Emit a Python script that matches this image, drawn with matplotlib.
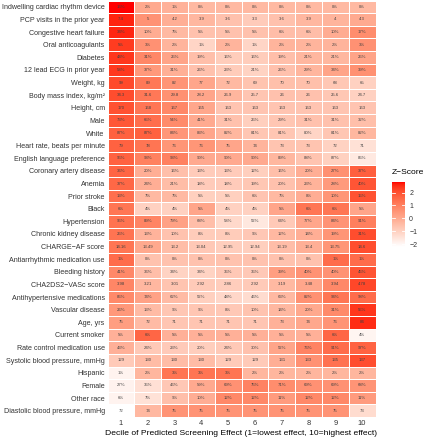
import numpy as np
import matplotlib
matplotlib.use("Agg")
import matplotlib.pyplot as plt
from matplotlib.colors import ListedColormap

plt.rcParams['font.family'] = ['Liberation Sans', 'DejaVu Sans']

row_labels = [
    "Indwelling cardiac rhythm device", "PCP visits in the prior year", "Congestive heart failure",
    "Oral anticoagulants", "Diabetes", "12 lead ECG in prior year", "Weight, kg",
    "Body mass index, kg/m²", "Height, cm", "Male", "White", "Heart rate, beats per minute",
    "English language preference", "Coronary artery disease", "Anemia", "Prior stroke", "Black",
    "Hypertension", "Chronic kidney disease", "CHARGE\u2212AF score", "Antiarrhythmic medication use",
    "Bleeding history", "CHA2DS2\u2212VASc score", "Antihypertensive medications", "Vascular disease",
    "Age, yrs", "Current smoker", "Rate control medication use", "Systolic blood pressure, mmHg",
    "Hispanic", "Female", "Other race", "Diastolic blood pressure, mmHg",
]

deciles = [1, 2, 3, 4, 5, 6, 7, 8, 9, 10]

values = [
    [16, 2, 1, 0, 0, 0, 0, 0, 0, 0],
    [7.4, 5, 4.2, 3.9, 3.6, 3.3, 3.6, 3.9, 4, 4.3],
    [34, 10, 7, 5, 5, 5, 6, 6, 10, 17],
    [5, 3, 2, 1, 2, 1, 2, 2, 2, 3],
    [44, 31, 25, 19, 16, 16, 19, 21, 21, 25],
    [58, 37, 31, 26, 23, 21, 26, 29, 34, 39],
    [99, 89, 82, 77, 72, 69, 70, 70, 68, 65],
    [34.3, 31.6, 29.8, 28.2, 26.9, 25.7, 26, 26, 25.6, 24.7],
    [170, 168, 167, 165, 163, 163, 163, 163, 163, 163],
    [73, 65, 54, 41, 31, 25, 29, 31, 31, 32],
    [87, 87, 84, 83, 82, 81, 81, 80, 81, 82],
    [79, 78, 76, 76, 75, 74, 73, 73, 72, 71],
    [95, 93, 93, 90, 90, 90, 89, 88, 87, 85],
    [36, 20, 16, 13, 13, 12, 16, 20, 27, 37],
    [37, 24, 21, 18, 18, 19, 20, 23, 28, 40],
    [13, 7, 7, 5, 5, 6, 7, 8, 10, 15],
    [6, 4, 4, 5, 4, 4, 5, 6, 6, 5],
    [95, 89, 79, 68, 58, 52, 64, 77, 84, 91],
    [25, 13, 10, 8, 8, 9, 12, 14, 19, 31],
    [14.16, 13.49, 13.2, 13.04, 12.95, 12.94, 13.19, 13.4, 13.75, 14.6],
    [1, 0, 0, 0, 0, 0, 0, 0, 1, 1],
    [41, 36, 34, 34, 35, 35, 39, 40, 40, 45],
    [3.98, 3.21, 3.01, 2.92, 2.86, 2.92, 3.19, 3.48, 3.94, 4.78],
    [85, 74, 62, 52, 48, 46, 63, 82, 94, 98],
    [26, 13, 9, 9, 8, 10, 14, 20, 31, 55],
    [75, 72, 71, 71, 71, 71, 73, 74, 76, 84],
    [5, 6, 5, 5, 5, 5, 5, 5, 6, 4],
    [43, 24, 23, 20, 24, 30, 52, 76, 91, 97],
    [129, 130, 130, 130, 129, 129, 131, 133, 135, 137],
    [1, 2, 3, 3, 3, 2, 2, 2, 2, 2],
    [27, 35, 46, 59, 69, 75, 71, 69, 69, 68],
    [6, 7, 9, 10, 12, 12, 11, 12, 12, 11],
    [72, 74, 75, 75, 75, 75, 75, 75, 75, 73],
]

is_percent = [
    True, False, True, True, True, True, False, False, False, True, True, False, True, True,
    True, True, True, True, True, False, True, True, False, True, True, False, True, True,
    False, True, True, True, False,
]

# ---- colormap: white -> red interpolated in CIELAB (ggplot-like) ----
def srgb_to_lab(rgb):
    rgb = np.asarray(rgb, float)
    lin = np.where(rgb <= 0.04045, rgb / 12.92, ((rgb + 0.055) / 1.055) ** 2.4)
    M = np.array([[0.4124, 0.3576, 0.1805], [0.2126, 0.7152, 0.0722], [0.0193, 0.1192, 0.9505]])
    xyz = M @ lin
    wp = np.array([0.95047, 1.0, 1.08883])
    t = xyz / wp
    f = np.where(t > (6 / 29) ** 3, np.cbrt(t), t / (3 * (6 / 29) ** 2) + 4 / 29)
    return np.array([116 * f[1] - 16, 500 * (f[0] - f[1]), 200 * (f[1] - f[2])])

def lab_to_srgb(lab):
    L, a, b = lab
    fy = (L + 16) / 116
    fx = fy + a / 500
    fz = fy - b / 200
    def finv(f):
        return np.where(f > 6 / 29, f ** 3, 3 * (6 / 29) ** 2 * (f - 4 / 29))
    wp = np.array([0.95047, 1.0, 1.08883])
    xyz = np.array([finv(fx), finv(fy), finv(fz)]) * wp
    Minv = np.array([[3.2406, -1.5372, -0.4986], [-0.9689, 1.8758, 0.0415], [0.0557, -0.2040, 1.0570]])
    lin = np.clip(Minv @ xyz, 0, 1)
    rgb = np.where(lin <= 0.0031308, 12.92 * lin, 1.055 * lin ** (1 / 2.4) - 0.055)
    return np.clip(rgb, 0, 1)

lab_w = srgb_to_lab([1, 1, 1])
lab_r = srgb_to_lab([1, 0, 0])
cols = [lab_to_srgb(lab_w + (lab_r - lab_w) * t) for t in np.linspace(0, 1, 256)]
cmap = ListedColormap(cols)

# ---- z-scores per row ----
vals = np.array(values, float)
z = (vals - vals.mean(axis=1, keepdims=True)) / vals.std(axis=1, ddof=1, keepdims=True)
vmin, vmax = z.min(), z.max()

W, H = 425, 440
fig = plt.figure(figsize=(W / 100, H / 100), dpi=100)
left, right, top, bottom = 107.5, 375.5, 0.5, 417
ax = fig.add_axes([left / W, 1 - bottom / H, (right - left) / W, (bottom - top) / H])

nrow, ncol = vals.shape
mesh = ax.pcolormesh(np.arange(ncol + 1), np.arange(nrow + 1), z, cmap=cmap, vmin=vmin, vmax=vmax,
                     edgecolors='white', linewidth=0.4)
ax.set_xlim(0, ncol)
ax.set_ylim(nrow, 0)

for i in range(nrow):
    for j in range(ncol):
        v = vals[i, j]
        s = f"{v:g}%" if is_percent[i] else f"{v:g}"
        ax.text(j + 0.5, i + 0.5, s, ha='center', va='center', fontsize=3.1, color='#404040')

ax.set_yticks(np.arange(nrow) + 0.5)
ax.set_yticklabels(row_labels, fontsize=5.15, color='#333333')
ax.set_xticks(np.arange(ncol) + 0.5)
ax.set_xticklabels([str(d) for d in deciles], fontsize=5.4, color='#333333')
ax.tick_params(axis='y', length=0, pad=2)
ax.tick_params(axis='x', length=0, pad=2.5)
ax.set_xlabel("Decile of Predicted Screening Effect (1=lowest effect, 10=highest effect)",
              fontsize=6.1, color='black', labelpad=1.5)
for s in ax.spines.values():
    s.set_visible(False)

# ---- colorbar ----
cax = fig.add_axes([392 / W, 1 - 247 / H, 13 / W, 65 / H])
cb = fig.colorbar(mesh, cax=cax, ticks=[-2, -1, 0, 1, 2])
cb.outline.set_visible(False)
cb.ax.tick_params(length=0, labelsize=5.0, labelcolor='#333333', pad=3)
for t in [-2, -1, 0, 1, 2]:
    cax.plot([0, 0.2], [t, t], color='white', lw=0.6, transform=cax.get_yaxis_transform())
    cax.plot([0.8, 1.0], [t, t], color='white', lw=0.6, transform=cax.get_yaxis_transform())
fig.text(392 / W, 1 - 173 / H, "Z\u2212Score", fontsize=6.1, ha='left', va='center')

fig.savefig("out.png", dpi=100)
